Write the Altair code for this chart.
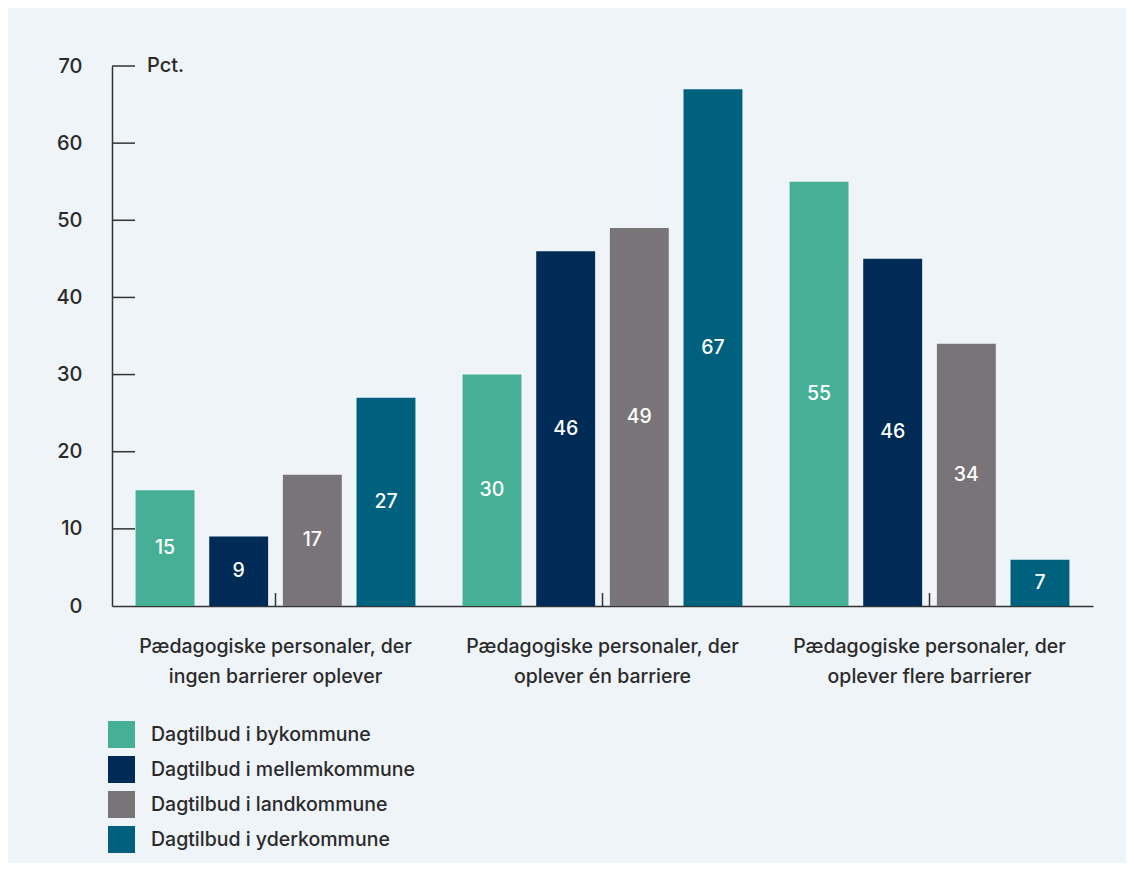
import altair as alt
import pandas as pd

categories = [
    "Pædagogiske personaler, der\ningen barrierer oplever",
    "Pædagogiske personaler, der\noplever én barriere",
    "Pædagogiske personaler, der\noplever flere barrierer",
]
series = [
    "Dagtilbud i bykommune",
    "Dagtilbud i mellemkommune",
    "Dagtilbud i landkommune",
    "Dagtilbud i yderkommune",
]
colors = ["#45B095", "#002B57", "#797478", "#00617E"]

# bar heights as drawn, per series (one value per category)
by_values = [15, 30, 55]
mellem_values = [9, 46, 45]
land_values = [17, 49, 34]
yder_values = [27, 67, 6]
# printed labels
by_labels = ["15", "30", "55"]
mellem_labels = ["9", "46", "46"]
land_labels = ["17", "49", "34"]
yder_labels = ["27", "67", "7"]

y_ticks = [0, 10, 20, 30, 40, 50, 60, 70]

rows = []
for s, vals, labs in zip(series,
                         [by_values, mellem_values, land_values, yder_values],
                         [by_labels, mellem_labels, land_labels, yder_labels]):
    for c, v, l in zip(categories, vals, labs):
        rows.append({"kategori": c, "serie": s, "value": v, "label": l})
df = pd.DataFrame(rows)

FONT = "Inter"
TXT = "#2a2a2a"
W, H = 981, 540

xscale = alt.Scale(domain=categories, paddingInner=0, paddingOuter=0)
offscale = alt.Scale(domain=series, paddingInner=0.2, paddingOuter=0.32)

base = alt.Chart(df)

bars = base.mark_bar().encode(
    x=alt.X("kategori:N", scale=xscale, sort=categories,
            axis=alt.Axis(title=None, labelAngle=0, ticks=False, domain=True,
                          domainColor="#333333", domainWidth=1.5,
                          labelExpr="split(datum.label, '\\n')",
                          labelFont=FONT, labelFontSize=19.5, labelColor=TXT,
                          labelFontWeight=500, labelBaseline="top", labelLimit=0,
                          labelPadding=31, labelLineHeight=30)),
    xOffset=alt.XOffset("serie:N", scale=offscale, sort=series),
    y=alt.Y("value:Q", scale=alt.Scale(domain=[0, 70], nice=False),
            axis=alt.Axis(title=None, values=y_ticks, ticks=False, grid=False,
                          domainColor="#333333", domainWidth=1.5,
                          labelFont=FONT, labelFontSize=20, labelColor=TXT,
                          labelFontWeight=500, labelPadding=30)),
    color=alt.Color("serie:N", scale=alt.Scale(domain=series, range=colors),
                    legend=alt.Legend(title=None, orient="none", legendX=-4,
                                      legendY=655, symbolType="square",
                                      symbolSize=729, symbolStrokeWidth=0,
                                      labelFont=FONT, labelFontSize=19.5,
                                      labelFontWeight=500,
                                      labelColor=TXT, labelOffset=16, labelLimit=0,
                                      rowPadding=8, padding=0, direction="vertical")),
)

labels = base.transform_calculate(mid="datum.value / 2").mark_text(
    color="white", font=FONT, fontSize=19.5, fontWeight=500, baseline="middle"
).encode(
    x=alt.X("kategori:N", scale=xscale, sort=categories),
    xOffset=alt.XOffset("serie:N", scale=offscale, sort=series),
    y=alt.Y("mid:Q"),
    text="label:N",
)

tick_df = pd.DataFrame({"t": y_ticks[1:]})
yticks = alt.Chart(tick_df).mark_rule(color="#333333", strokeWidth=1.5).encode(
    y="t:Q", x=alt.value(0), x2=alt.value(23)
)

cat_df = pd.DataFrame({"kategori": categories})
xticks = alt.Chart(cat_df).mark_rule(color="#333333", strokeWidth=1.5).encode(
    x=alt.X("kategori:N", scale=xscale, sort=categories),
    y=alt.value(H - 13), y2=alt.value(H),
)

unit_df = pd.DataFrame({"t": [70], "txt": ["Pct."]})
unit = alt.Chart(unit_df).mark_text(
    align="left", baseline="middle", font=FONT, fontSize=20, fontWeight=500, color=TXT
).encode(y="t:Q", x=alt.value(35), text="txt:N")

chart = alt.layer(bars, labels, yticks, xticks, unit).properties(
    width=W, height=H,
    background="#EFF4F9",
    autosize=alt.AutoSizeParams(type="none"),
    padding={"left": 104, "top": 58, "right": 33, "bottom": 257},
).configure_view(stroke=None)

chart.save("out.html", embed_options={"renderer": "svg", "actions": False})
